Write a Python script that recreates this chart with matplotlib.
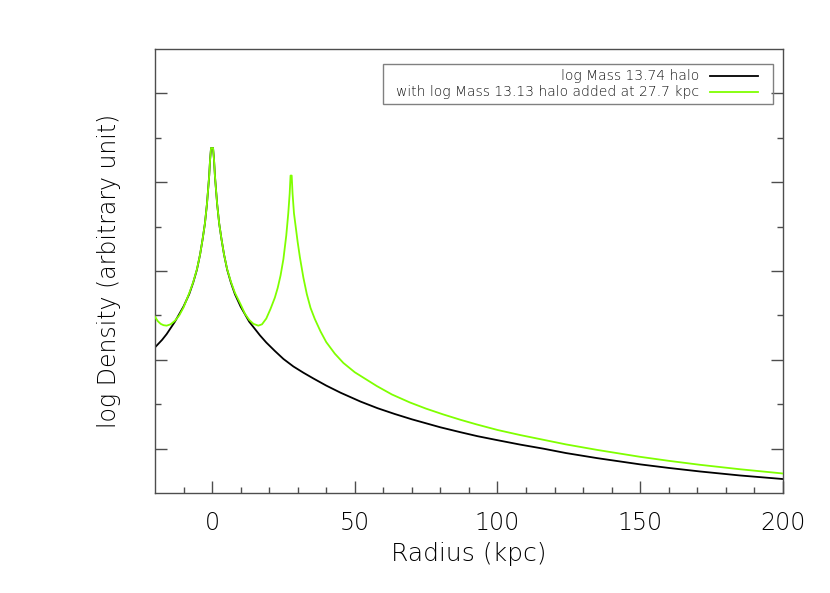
import numpy as np
import matplotlib
matplotlib.use("Agg")
import matplotlib.pyplot as plt
from matplotlib.ticker import FixedLocator, NullFormatter

plt.rcParams['font.family'] = ['DejaVu Sans']
plt.rcParams['font.weight'] = 'light'
plt.rcParams['axes.labelweight'] = 'light'

# values (x in kpc, y in arbitrary log units)
r_main = [-20, -17.5, -15.9, -13, -10, -8, -6.6, -5.3, -4.2, -3.3, -2.5, -1.8,
          -1.4, -1.0, -0.7, -0.35, 0, 0.35, 0.7, 1.0, 1.4, 1.8, 2.5, 3.3, 4.2,
          5.3, 6.6, 8, 10, 13, 16.8, 19, 22, 25, 28.5, 32, 35.5, 40, 45, 52, 58,
          64, 70, 75, 80, 87, 93, 100, 108, 116, 124, 135, 150, 160, 171, 185, 200]
rho_main = [3.28, 3.45, 3.58, 3.86, 4.2, 4.48, 4.74, 5.03, 5.37, 5.72, 6.07, 6.5,
            6.82, 7.15, 7.5, 7.77, 7.77, 7.77, 7.5, 7.15, 6.82, 6.5, 6.07, 5.72,
            5.37, 5.03, 4.74, 4.48, 4.2, 3.86, 3.55, 3.39, 3.2, 3.02, 2.85, 2.71,
            2.58, 2.42, 2.26, 2.06, 1.91, 1.78, 1.66, 1.57, 1.48, 1.37, 1.28, 1.19,
            1.09, 1.0, 0.9, 0.785, 0.645, 0.565, 0.485, 0.395, 0.315]

r_both = [-20, -19, -18, -17, -15.9, -14.5, -13, -11.5, -10, -8, -6.6, -5.3,
          -4.2, -3.3, -2.5, -1.8, -1.4, -1.0, -0.7, -0.35, 0, 0.35, 0.7, 1.0,
          1.4, 1.8, 2.5, 3.3, 4.2, 5.3, 6.6, 8, 10, 11.5, 13, 14.5, 16.2, 17.5,
          19, 20.5, 22, 23, 24, 25, 26, 26.7, 27.2, 27.5, 27.7, 27.9, 28.2, 28.7,
          29.5, 30, 30.8, 32, 33.2, 34.5, 36, 38, 40, 43, 46, 50, 57.7, 63, 69.3,
          75, 81, 87, 92.7, 100, 108, 116, 124, 135, 150, 160, 171, 185, 200]
rho_both = [3.97, 3.87, 3.81, 3.78, 3.77, 3.80, 3.88, 4.0, 4.18, 4.5, 4.75, 5.04,
            5.37, 5.72, 6.07, 6.5, 6.82, 7.15, 7.5, 7.77, 7.77, 7.77, 7.5, 7.15,
            6.82, 6.5, 6.07, 5.72, 5.37, 5.04, 4.76, 4.51, 4.25, 4.04, 3.9, 3.81,
            3.77, 3.8, 3.93, 4.15, 4.4, 4.62, 4.9, 5.27, 5.8, 6.3, 6.75, 7.15,
            7.15, 7.15, 6.75, 6.3, 5.9, 5.65, 5.3, 4.85, 4.48, 4.17, 3.92, 3.64,
            3.4, 3.14, 2.93, 2.72, 2.41, 2.22, 2.04, 1.9, 1.77, 1.65, 1.545, 1.42,
            1.305, 1.2, 1.095, 0.97, 0.815, 0.725, 0.635, 0.535, 0.44]

labels = ["log Mass 13.74 halo", "with log Mass 13.13 halo added at 27.7 kpc"]
colors = ["black", "#7fff00"]

fig = plt.figure(figsize=(8.3, 5.93), dpi=100)
ax = fig.add_axes([0.1867, 0.1686, 0.7566, 0.7487])

ax.plot(r_main, rho_main, color=colors[0], lw=1.3, zorder=2)
ax.plot(r_both, rho_both, color=colors[1], lw=1.3, zorder=3)

ax.set_xlim(-20, 200)
ax.set_ylim(0, 10)

frame = "#4d4d4d"
for s in ax.spines.values():
    s.set_color(frame)
    s.set_linewidth(1.0)

ax.xaxis.set_major_locator(FixedLocator([0, 50, 100, 150, 200]))
ax.xaxis.set_minor_locator(FixedLocator(np.arange(-10, 200, 10)))
ax.yaxis.set_major_locator(FixedLocator([1, 3, 5, 7, 9]))
ax.yaxis.set_minor_locator(FixedLocator([2, 4, 6, 8]))
ax.yaxis.set_major_formatter(NullFormatter())
ax.tick_params(axis='both', which='both', direction='in', color=frame, width=1.0)
ax.tick_params(axis='both', which='major', length=8.5)
ax.tick_params(axis='both', which='minor', length=4.3)
ax.tick_params(axis='x', which='major', labelsize=17, pad=13)
ax.tick_params(axis='y', which='both', left=True, right=True)

ax.set_xlabel("Radius (kpc)", fontsize=18, labelpad=5)
ax.set_ylabel("log Density (arbitrary unit)", fontsize=17, labelpad=21)

# legend box with labels right-aligned and the line samples on the right
box = plt.Rectangle((0.363, 0.876), 0.621, 0.09, transform=ax.transAxes,
                    fill=False, edgecolor="#808080", lw=1.0, zorder=4)
ax.add_patch(box)
for i, (lab, c) in enumerate(zip(labels, colors)):
    y = 0.939 - i * 0.036
    ax.text(0.867, y, lab, transform=ax.transAxes, ha='right', va='center',
            fontsize=10, color="#111111")
    ax.plot([0.884, 0.960], [y, y], transform=ax.transAxes, color=c, lw=1.3,
            zorder=5)

fig.savefig("out.png", dpi=100)
